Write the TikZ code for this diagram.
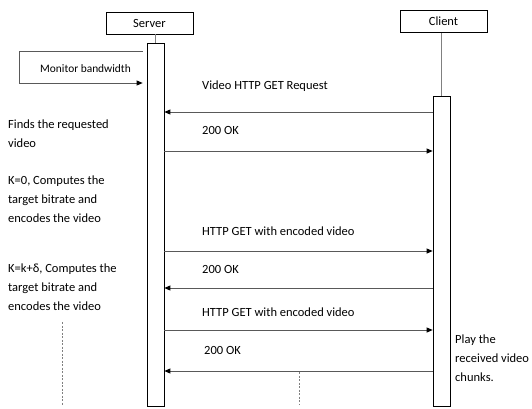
\documentclass[tikz,border=0pt]{standalone}
\usepackage{fontspec}
\setmainfont{Carlito}
\usetikzlibrary{arrows.meta}
\tikzset{
  headbox/.style={draw, line width=0.7pt, minimum width=87pt, minimum height=22pt, inner sep=0pt, font=\fontsize{12.5}{14}\selectfont},
  actbar/.style={draw, line width=0.7pt, fill=white, minimum width=17pt, inner sep=0pt},
  lifeline/.style={draw=gray, line width=1pt},
  msg/.style={draw=gray!70!black, line width=0.8pt, -{Triangle[length=6pt,width=5pt,color=black]}},
  lbl/.style={anchor=west, inner sep=0pt, font=\fontsize{12.5}{14}\selectfont},
  note/.style={anchor=west, align=left, inner sep=0pt, font=\fontsize{12.5}{19}\selectfont},
  gapline/.style={draw=gray, line width=0.8pt, dash pattern=on 2pt off 1.5pt}
}
\begin{document}
\begin{tikzpicture}[x=1pt,y=-1pt]
  \useasboundingbox (0,0) rectangle (532,408);
  % heads and activation bars
  \node[headbox] (server) at (149.5,23) {Server};
  \node[headbox] (client) at (443.5,21.5) {Client};
  \node[actbar, minimum height=363pt] (sbar) at (155.5,224.5) {};
  \node[actbar, minimum height=310pt] (cbar) at (441.5,251) {};
  \draw[lifeline] (sbar.north) -- (sbar.north |- server.south);
  \draw[lifeline] (cbar.north) -- (cbar.north |- client.south);
  % message heights
  \coordinate (mbtop) at (0,51);
  \coordinate (mbleft) at (19,83);
  \coordinate (m1) at (0,112);
  \coordinate (m2) at (0,151);
  \coordinate (m3) at (0,251);
  \coordinate (m4) at (0,288);
  \coordinate (m5) at (0,330);
  \coordinate (m6) at (0,371);
  % monitor loop
  \draw[msg, shorten <=4pt, shorten >=4pt] (sbar.west |- mbtop) -| (mbleft) -- (sbar.west |- mbleft);
  \node[lbl, font=\fontsize{11.4}{14}\selectfont] (mon) at (40,69) {Monitor bandwidth};
  % messages
  \draw[msg] (cbar.west |- m1) -- (sbar.east |- m1);
  \draw[msg] (sbar.east |- m2) -- (cbar.west |- m2);
  \draw[msg] (sbar.east |- m3) -- (cbar.west |- m3);
  \draw[msg] (cbar.west |- m4) -- (sbar.east |- m4);
  \draw[msg] (sbar.east |- m5) -- (cbar.west |- m5);
  \draw[msg] (cbar.west |- m6) -- (sbar.east |- m6);
  \node[lbl] (l1) at (202,86) {Video HTTP GET Request};
  \node[lbl] (l2) at (202,130) {200 OK};
  \node[lbl] (l3) at (202,231) {HTTP GET with encoded video};
  \node[lbl] (l4) at (202,269) {200 OK};
  \node[lbl] (l5) at (202,312) {HTTP GET with encoded video};
  \node[lbl] (l6) at (204,350) {200 OK};
  % side notes
  \node[note] (find) at (8,133.5) {Finds the requested\\video};
  \node[note] (kzero) at (8,199) {K=0, Computes the\\target bitrate and\\encodes the video};
  \node[note] (knext) at (8,287) {K=k+δ, Computes the\\target bitrate and\\encodes the video};
  \node[note] (play) at (455,358) {Play the\\received video\\chunks.};
  % continuation marks
  \coordinate (gl) at (62,322);
  \coordinate (gm) at (299,372);
  \draw[gapline] (gl) -- (gl |- 0,405);
  \draw[gapline] (gm) -- (gm |- 0,405);
\end{tikzpicture}
\end{document}
